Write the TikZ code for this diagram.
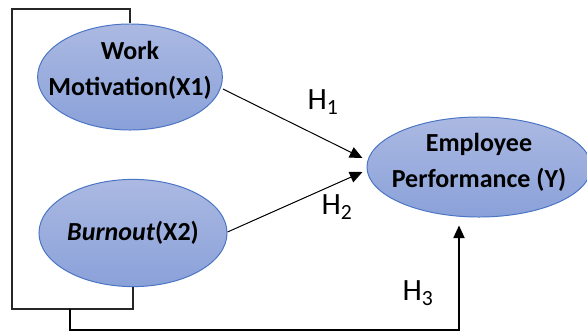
\documentclass[tikz,border=0pt]{standalone}
\usepackage{fontspec}
\setmainfont{Carlito}
\usepackage{tikz}
\usetikzlibrary{arrows.meta,shapes,calc}
\definecolor{ellborder}{HTML}{4A74C4}
\definecolor{elltop}{HTML}{ABB9E2}
\definecolor{ellbot}{HTML}{8AA1D9}
\tikzstyle{construct}=[ellipse, draw=ellborder, line width=.7pt, top color=elltop, bottom color=ellbot, inner sep=0pt]
\tikzstyle{constructtext}=[align=center, inner sep=0pt, font=\fontsize{18.5}{25.5}\selectfont\bfseries]
\tikzstyle{hyparrow}=[line width=.7pt, -{Triangle[length=9pt,width=8pt]}]
\tikzstyle{hyplabel}=[font=\fontsize{22}{26}\selectfont]
\newcommand{\hname}[1]{H\textsubscript{#1}}

\begin{document}
\begin{tikzpicture}[x=.025cm, y=-.025cm]
	\useasboundingbox (0,0) rectangle (587,331);
	\node[construct, minimum width=4.62cm, minimum height=2.65cm, label={[constructtext, yshift=4.5pt]center:Work\\Motivation(X1)}] (wm) at (130,77) {};
	\node[construct, minimum width=4.7cm, minimum height=2.68cm, label={[constructtext]center:\textit{Burnout}(X2)}] (bo) at (133,233) {};
	\node[construct, minimum width=5.6cm, minimum height=2.5cm, label={[constructtext, yshift=3.5pt]center:Employee\\Performance (Y)}] (emp) at (479,167) {};
	% frame round the two predictors
	\draw[line width=1pt, black!85] (wm.north) |- (12,9) -- (12,309) -| (bo.south);
	\coordinate (joint) at (70,309);
	\draw[hyparrow] ($(wm.east)+(0,12)$) -- ($(emp.west)+(-4,-9)$);
	\draw[hyparrow] ($(bo.east)+(0,-1)$) -- ($(emp.west)+(-4,5)$);
	\draw[hyparrow, line width=1pt] (joint) -- (70,330) -| ($(emp.south)+(-20,8)$);
	\node[hyplabel] (h1) at (323,102) {\hname{1}};
	\node[hyplabel] (h2) at (337,207) {\hname{2}};
	\node[hyplabel] (h3) at (418,293) {\hname{3}};
\end{tikzpicture}
\end{document}
